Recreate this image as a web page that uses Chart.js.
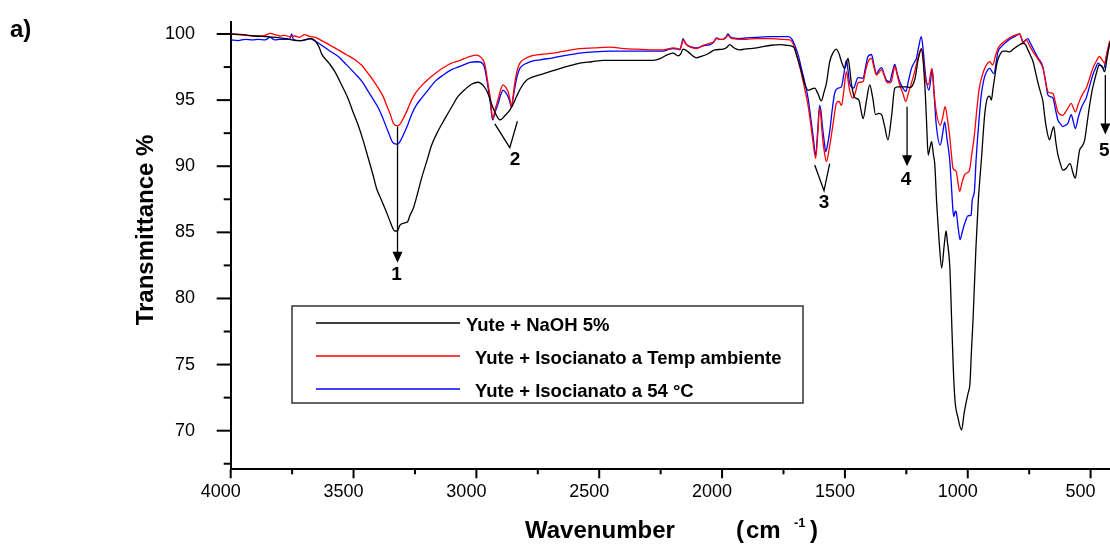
<!DOCTYPE html>
<html>
<head>
<meta charset="utf-8">
<script src="https://cdn.jsdelivr.net/npm/chart.js@4.4.0/dist/chart.umd.min.js"></script>
<style>
  html, body { margin: 0; padding: 0; background: #fff; }
  #wrap { width: 1110px; height: 545px; }
</style>
</head>
<body>
<div id="wrap"><canvas id="ftirChart" width="1110" height="545"></canvas></div>
<script>
// ---------------------------
// Data (wavenumber cm-1 / transmittance %)
// ---------------------------
const naohNu = [4000,3950,3900,3850,3800,3760,3735,3710,3690,3670,3655,3640,3630,3600,3576,3550,3522,3500,3481,3460,3440,3420,3406,3390,3372,3355,3340,3332,3322,3311,3295,3280,3270,3257,3240,3223,3200,3182,3155,3128,3100,3074,3047,3020,2993,2972,2955,2938,2920,2904,2885,2864,2850,2837,2820,2796,2770,2742,2710,2674,2630,2579,2530,2484,2430,2376,2330,2281,2250,2226,2199,2179,2168,2159,2138,2120,2104,2085,2063,2045,2030,1996,1980,1969,1955,1941,1928,1910,1887,1860,1833,1800,1765,1740,1718,1705,1697,1687,1677,1665,1650,1640,1623,1610,1596,1585,1575,1562,1548,1535,1524,1514,1501,1487,1480,1474,1463,1456,1443,1435,1426,1412,1399,1387,1375,1363,1351,1338,1325,1310,1297,1284,1270,1250,1236,1225,1215,1201,1188,1174,1168,1161,1154,1147,1140,1134,1127,1120,1116,1106,1096,1088,1083,1073,1066,1059,1052,1040,1025,1015,1007,999,991,985,978,967,957,950,944,937,930,918,911,904,897,891,880,870,857,843,830,812,796,775,765,755,745,734,724,714,704,694,687,680,667,658,650,642,633,623,613,599,590,583,572,562,553,545,535,524,514,504,494,484,474,466,455,443,433,423,421];
const naohT = [100.0,99.95,99.85,99.8,99.7,99.6,99.5,99.5,99.6,99.65,99.45,99.0,98.5,97.8,97.15,96.2,95.1,94.0,93.1,91.9,90.6,89.3,88.3,87.6,86.8,86.0,85.3,85.1,85.1,85.55,85.7,85.8,86.3,86.8,87.9,89.1,90.5,91.6,92.7,93.6,94.5,95.3,95.8,96.2,96.35,96.1,95.6,94.7,93.9,93.5,93.8,94.25,94.7,95.25,95.9,96.5,96.75,96.9,97.1,97.3,97.55,97.8,97.9,98.0,98.0,98.0,98.0,98.0,98.15,98.4,98.55,98.35,98.5,98.85,98.65,98.35,98.2,98.3,98.45,98.65,98.8,98.85,99.0,99.2,99.0,98.85,98.8,98.85,98.9,98.95,99.05,99.15,99.2,99.15,99.1,98.9,98.4,97.8,97.15,96.3,95.75,95.8,95.9,95.5,94.95,95.6,96.3,97.9,98.6,98.85,98.5,97.9,97.4,98.15,97.3,96.3,95.3,95.15,95.0,94.3,93.6,95.0,96.15,95.2,93.9,94.0,93.9,93.0,92.0,93.8,95.9,96.0,96.0,96.0,95.95,96.1,96.6,98.15,98.9,95.9,93.5,90.85,91.4,91.85,90.9,90.1,87.4,85.3,84.2,82.3,84.0,85.1,84.3,82.4,78.6,74.8,72.3,71.0,70.05,71.3,72.1,72.8,73.6,76.0,78.6,83.7,87.4,89.2,90.6,92.5,94.1,95.25,95.3,95.0,95.9,96.65,97.9,98.4,98.7,98.7,98.65,98.9,99.1,99.3,99.2,98.8,98.4,97.9,97.1,96.3,95.6,94.9,93.8,92.9,92.0,92.6,93.0,91.9,90.85,90.2,89.7,89.85,90.1,90.2,89.5,89.1,90.2,91.2,91.5,92.0,93.3,94.6,95.7,96.5,97.2,97.65,97.6,97.15,98.2,99.2,99.35];

const ambNu = [4000,3970,3940,3910,3888,3860,3840,3820,3800,3780,3760,3740,3720,3700,3677,3655,3630,3600,3562,3530,3494,3465,3440,3420,3399,3380,3365,3350,3338,3321,3310,3298,3280,3264,3245,3223,3195,3169,3135,3101,3075,3047,3026,2999,2986,2975,2965,2952,2942,2934,2922,2911,2901,2891,2880,2871,2864,2857,2850,2843,2833,2823,2800,2782,2740,2688,2630,2579,2520,2457,2400,2348,2290,2240,2215,2199,2180,2172,2164,2159,2150,2138,2120,2104,2077,2050,2035,2023,2010,1996,1985,1976,1965,1955,1930,1901,1860,1806,1760,1724,1712,1704,1690,1677,1663,1650,1640,1630,1619,1611,1603,1597,1592,1583,1575,1565,1555,1545,1535,1524,1514,1505,1494,1488,1481,1467,1457,1447,1436,1426,1416,1406,1392,1382,1372,1361,1351,1341,1331,1320,1311,1304,1297,1287,1277,1264,1252,1242,1229,1216,1203,1189,1180,1169,1160,1146,1138,1128,1112,1102,1092,1083,1074,1067,1060,1047,1040,1033,1023,1013,1003,993,983,973,963,953,942,931,911,898,888,877,860,843,826,809,789,782,775,762,748,734,714,694,684,674,663,653,643,633,623,613,602,592,579,570,562,550,538,528,518,505,491,478,464,455,443,433,423,421];
const ambT = [100.0,99.95,99.9,99.85,99.85,99.9,100.05,99.95,99.85,99.9,99.8,99.85,99.75,99.95,99.8,99.75,99.5,99.2,98.8,98.45,98.05,97.6,97.0,96.5,95.9,95.3,94.6,93.9,93.25,93.05,93.2,93.6,94.3,95.0,95.6,96.1,96.6,97.0,97.45,97.8,97.95,98.15,98.3,98.4,98.3,98.1,97.65,96.15,95.0,93.6,94.4,95.1,95.8,96.15,95.95,95.65,95.1,94.5,95.4,96.4,97.3,97.8,98.15,98.3,98.45,98.55,98.75,98.9,98.95,99.0,98.9,98.85,98.8,98.8,98.9,98.95,98.9,98.85,99.2,99.55,99.3,99.1,98.95,98.9,99.15,99.3,99.4,99.65,99.6,99.6,99.7,99.9,99.7,99.65,99.6,99.6,99.65,99.65,99.6,99.55,99.3,98.9,98.0,97.0,95.8,94.6,93.3,91.85,90.6,92.3,94.4,93.6,92.35,91.0,90.35,91.2,92.35,93.6,94.75,94.9,94.6,95.6,97.15,96.6,95.75,95.15,95.6,96.3,96.35,96.4,97.2,97.9,98.15,97.5,96.9,97.1,97.3,96.9,96.4,96.3,96.4,97.0,97.55,96.9,96.15,95.5,94.9,95.5,96.3,97.15,98.15,98.85,97.8,96.3,96.2,97.4,95.7,94.1,93.1,93.7,94.5,93.6,92.35,91.0,89.85,89.6,88.8,88.1,88.8,89.35,89.5,89.7,91.0,92.35,94.3,95.9,96.8,97.4,97.9,97.65,98.3,98.9,99.3,99.55,99.75,99.9,100.0,99.7,99.3,99.55,99.1,98.65,98.1,97.4,96.5,95.65,95.55,95.5,94.8,94.1,93.9,93.85,94.1,94.4,94.75,94.4,94.1,94.7,95.25,95.6,95.9,96.6,97.4,97.9,98.3,98.1,97.8,98.6,99.4,99.5];

const hotNu = [4000,3970,3940,3910,3888,3860,3840,3820,3800,3760,3752,3745,3720,3700,3677,3655,3630,3600,3562,3530,3494,3465,3440,3420,3399,3380,3359,3345,3338,3321,3310,3298,3280,3264,3245,3223,3195,3169,3135,3101,3075,3047,3026,2993,2972,2965,2952,2942,2934,2922,2911,2901,2891,2880,2871,2864,2857,2850,2843,2833,2823,2800,2782,2740,2688,2630,2579,2520,2457,2400,2348,2290,2240,2215,2199,2180,2172,2164,2159,2150,2138,2120,2104,2077,2050,2035,2023,2010,1996,1985,1976,1965,1955,1930,1901,1860,1806,1760,1731,1715,1704,1690,1677,1663,1650,1640,1630,1619,1611,1603,1597,1592,1585,1578,1570,1562,1552,1542,1528,1514,1504,1494,1487,1481,1464,1456,1447,1426,1416,1406,1392,1382,1372,1361,1351,1341,1331,1318,1307,1297,1287,1277,1264,1252,1242,1229,1216,1209,1200,1189,1180,1172,1158,1144,1136,1128,1112,1102,1094,1084,1074,1067,1060,1056,1051,1047,1040,1031,1024,1017,1008,1000,986,982,973,966,959,952,945,935,927,911,894,877,860,843,826,809,789,782,775,755,745,734,714,694,684,674,663,653,643,633,623,613,602,592,579,570,562,550,538,528,518,505,491,478,470,458,447,435,423,421];
const hotT = [99.55,99.5,99.6,99.55,99.6,99.55,99.75,99.55,99.6,99.6,100.0,99.6,99.5,99.55,99.65,99.45,99.15,98.75,98.3,97.7,97.0,96.4,95.65,95.05,94.4,93.6,92.6,91.95,91.75,91.65,91.9,92.35,93.1,93.9,94.6,95.15,95.8,96.4,96.9,97.3,97.5,97.7,97.85,97.9,97.7,97.3,95.9,94.6,93.5,94.2,94.75,95.4,95.75,95.55,95.25,94.9,94.45,95.2,96.0,96.9,97.4,97.75,97.9,98.05,98.2,98.4,98.55,98.65,98.7,98.7,98.7,98.7,98.7,98.85,98.9,98.85,98.8,99.3,99.65,99.35,99.1,99.0,98.95,99.1,99.2,99.35,99.7,99.6,99.6,99.75,100.0,99.75,99.7,99.65,99.7,99.75,99.8,99.8,99.8,99.6,99.15,98.4,97.4,96.3,95.15,93.8,92.35,90.85,92.6,94.6,94.1,93.1,92.0,91.1,91.7,92.6,94.2,95.5,95.9,96.0,97.0,98.0,97.2,96.3,95.9,96.3,96.7,96.65,97.5,98.3,98.45,97.7,97.0,97.3,97.45,97.0,96.5,96.4,97.1,97.7,97.0,96.4,95.9,95.65,96.4,97.4,97.9,98.15,99.0,99.8,98.5,96.9,95.75,97.3,95.2,93.1,91.6,92.5,93.35,92.0,90.6,88.7,86.6,86.2,86.6,86.55,85.5,84.45,84.9,85.4,85.9,86.25,86.3,87.4,88.1,90.5,92.35,94.0,95.4,96.5,97.0,97.4,97.0,98.65,99.1,99.4,99.65,99.8,100.0,99.75,99.4,99.65,99.3,98.9,98.2,97.5,96.5,95.4,95.25,95.15,94.3,93.5,93.2,93.0,93.1,93.25,93.9,93.35,92.85,93.7,94.4,94.8,95.15,96.0,96.9,97.5,97.8,97.6,97.4,98.4,99.3,99.45];

const seriesLabels = ['Yute + NaOH 5%', 'Yute + Isocianato a Temp ambiente', 'Yute + Isocianato a 54 °C'];
const seriesColors = ['#000000', '#ff0000', '#0000ff'];

// axis ticks
const xMajor = [4000, 3500, 3000, 2500, 2000, 1500, 1000, 500];
const xMinor = [3750, 3250, 2750, 2250, 1750, 1250, 750];
const yMajor = [70, 75, 80, 85, 90, 95, 100];
const yMinor = [67.5, 72.5, 77.5, 82.5, 87.5, 92.5, 97.5];

// peak markers: arrows (1, 4, 5) and V brackets (2, 3), in data units
const arrowNu = [3321, 1247, 440];
const arrowFrom = [93.0, 94.5, 96.9];
const arrowTo = [82.7, 90.0, 92.4];
const arrowText = ['1', '4', '5'];
const arrowTextT = [81.8, 89.0, 91.2];
const bracketNu = [[2925, 2864, 2833], [1623, 1585, 1562]];
const bracketT = [[93.2, 91.4, 93.4], [90.1, 88.15, 90.2]];
const bracketText = ['2', '3'];
const bracketTextNu = [2843, 1585];
const bracketTextT = [90.5, 87.2];

const FONT = '"Liberation Sans", Arial, sans-serif';

const toPoints = (nu, t) => nu.map((v, i) => ({ x: v, y: t[i] }));

// no auto padding from tick labels: the plot box is fixed like the original
const noPad = s => { s.paddingTop = 0; s.paddingBottom = 0; s.paddingLeft = 0; s.paddingRight = 0; };

// ---------------------------
// Decorations: ticks, markers, legend, titles
// ---------------------------
const decor = {
    id: 'decor',
    afterDraw(chart) {
        const ctx = chart.ctx;
        const xs = chart.scales.x, ys = chart.scales.y;
        ctx.save();
        ctx.strokeStyle = '#000';
        ctx.fillStyle = '#000';

        // tick marks
        ctx.lineWidth = 2;
        const tick = (x1, y1, x2, y2) => { ctx.beginPath(); ctx.moveTo(x1, y1); ctx.lineTo(x2, y2); ctx.stroke(); };
        xMajor.forEach(v => { const p = xs.getPixelForValue(v); tick(p, xs.top, p, xs.top + 9); });
        xMinor.forEach(v => { const p = xs.getPixelForValue(v); tick(p, xs.top, p, xs.top + 5); });
        yMajor.forEach(v => { const p = ys.getPixelForValue(v); tick(ys.right - 14, p, ys.right, p); });
        yMinor.forEach(v => { const p = ys.getPixelForValue(v); tick(ys.right - 7, p, ys.right, p); });

        // arrows
        ctx.lineWidth = 1.3;
        ctx.font = 'bold 19px ' + FONT;
        ctx.textAlign = 'center';
        ctx.textBaseline = 'middle';
        arrowNu.forEach((nu, i) => {
            const px = xs.getPixelForValue(nu);
            const y1 = ys.getPixelForValue(arrowFrom[i]);
            const y2 = ys.getPixelForValue(arrowTo[i]);
            tick(px, y1, px, y2 - 8);
            ctx.beginPath();
            ctx.moveTo(px, y2);
            ctx.lineTo(px - 5, y2 - 11);
            ctx.lineTo(px + 5, y2 - 11);
            ctx.closePath();
            ctx.fill();
            ctx.fillText(arrowText[i], px - 1, ys.getPixelForValue(arrowTextT[i]));
        });

        // V brackets
        bracketNu.forEach((nus, i) => {
            ctx.beginPath();
            nus.forEach((nu, j) => {
                const px = xs.getPixelForValue(nu), py = ys.getPixelForValue(bracketT[i][j]);
                if (j === 0) ctx.moveTo(px, py); else ctx.lineTo(px, py);
            });
            ctx.stroke();
            ctx.fillText(bracketText[i], xs.getPixelForValue(bracketTextNu[i]), ys.getPixelForValue(bracketTextT[i]));
        });

        // legend box
        ctx.lineWidth = 1.5;
        ctx.strokeStyle = '#333';
        ctx.strokeRect(292, 306, 511, 97);
        const rowY = [323, 356, 389];
        const textX = [466, 475, 475];
        ctx.font = 'bold 18.5px ' + FONT;
        ctx.textAlign = 'left';
        ctx.textBaseline = 'alphabetic';
        chart.data.datasets.forEach((ds, i) => {
            ctx.strokeStyle = ds.borderColor;
            ctx.lineWidth = 1.6;
            tick(316, rowY[i], 460, rowY[i]);
            ctx.fillText(ds.label, textX[i], rowY[i] + 7.5);
        });

        // axis titles
        ctx.font = 'bold 24px ' + FONT;
        ctx.fillText('Wavenumber', 525, 538);
        ctx.fillText('(', 736, 538);
        ctx.fillText('cm', 746, 538);
        ctx.fillText(')', 810, 538);
        ctx.font = 'bold 13px ' + FONT;
        ctx.fillText('-1', 794, 527);

        ctx.save();
        ctx.translate(153, 230);
        ctx.rotate(-Math.PI / 2);
        ctx.font = 'bold 24px ' + FONT;
        ctx.textAlign = 'center';
        ctx.fillText('Transmittance %', 0, 0);
        ctx.restore();

        ctx.font = 'bold 24px ' + FONT;
        ctx.fillText('a)', 10, 37);
        ctx.restore();
    }
};

// ---------------------------
// Chart
// ---------------------------
const ctx = document.getElementById('ftirChart').getContext('2d');
const ds = (i, nu, t) => ({
    label: seriesLabels[i],
    data: toPoints(nu, t),
    borderColor: seriesColors[i],
    borderWidth: 1.3,
    pointRadius: 0,
    fill: false,
    cubicInterpolationMode: 'monotone'
});

const ftirChart = new Chart(ctx, {
    type: 'line',
    data: {
        datasets: [ds(0, naohNu, naohT), ds(1, ambNu, ambT), ds(2, hotNu, hotT)]
    },
    options: {
        responsive: false,
        animation: false,
        parsing: false,
        layout: { padding: { top: 21.7, right: 0, bottom: 0, left: 0 }, autoPadding: false },
        plugins: { legend: { display: false }, tooltip: { enabled: false } },
        scales: {
            x: {
                type: 'linear',
                reverse: true,
                min: 421,
                max: 4000,
                afterBuildTicks: s => { s.ticks = xMajor.map(v => ({ value: v })); },
                afterFit: s => { s.height = 75.7; noPad(s); },
                grid: { display: false, drawTicks: false },
                border: { display: true, color: '#000', width: 2 },
                ticks: {
                    color: '#000',
                    font: { family: FONT, size: 18 },
                    padding: 12,
                    labelOffset: -10,
                    maxRotation: 0,
                    autoSkip: false,
                    callback: v => String(v)
                }
            },
            y: {
                min: 67.08,
                max: 100.93,
                afterBuildTicks: s => { s.ticks = yMajor.map(v => ({ value: v })); },
                afterFit: s => { s.width = 230.7; noPad(s); },
                grid: { display: false, drawTicks: false },
                border: { display: true, color: '#000', width: 2 },
                ticks: {
                    color: '#000',
                    font: { family: FONT, size: 18 },
                    padding: 35.7,
                    callback: v => String(v)
                }
            }
        }
    },
    plugins: [decor]
});
</script>
</body>
</html>
